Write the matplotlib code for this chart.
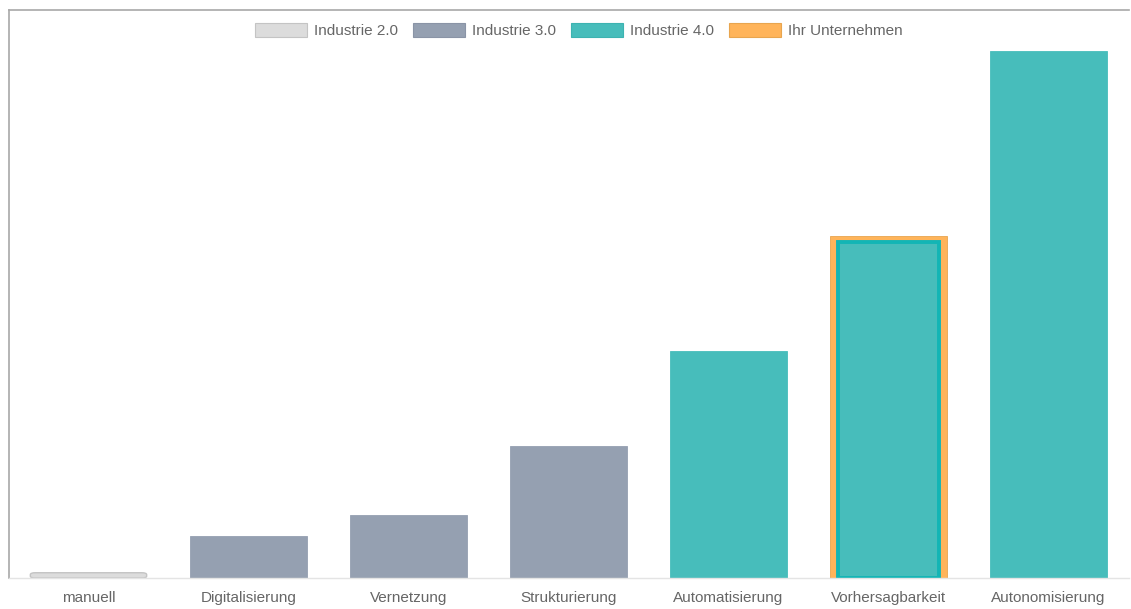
import matplotlib.pyplot as plt
from matplotlib.patches import Patch, FancyBboxPatch

categories = ["manuell", "Digitalisierung", "Vernetzung", "Strukturierung",
              "Automatisierung", "Vorhersagbarkeit", "Autonomisierung"]
values = [1, 8, 12, 25, 43, 65, 100]
groups = ["Industrie 2.0", "Industrie 3.0", "Industrie 3.0", "Industrie 3.0",
          "Industrie 4.0", "Industrie 4.0", "Industrie 4.0"]
company_index = 5
legend_labels = ["Industrie 2.0", "Industrie 3.0", "Industrie 4.0", "Ihr Unternehmen"]

colors = {"Industrie 2.0": "#dcdcdc", "Industrie 3.0": "#95a0b1",
          "Industrie 4.0": "#47bdbb", "Ihr Unternehmen": "#ffb45a"}
edges = {"Industrie 2.0": "#c4c4c4", "Industrie 3.0": "#8a94a6",
         "Industrie 4.0": "#3db3b1", "Ihr Unternehmen": "#e8a54f"}

plt.rcParams["font.family"] = ["Liberation Sans", "DejaVu Sans"]

fig = plt.figure(figsize=(11.31, 6.09), dpi=100)
ax = fig.add_axes([8.5 / 1131, 31 / 609, 1120 / 1131, 568 / 609])

x = list(range(len(categories)))
w = 0.727
for i, (v, g) in enumerate(zip(values, groups)):
    if i == company_index:
        ax.bar(i, v, width=w, color=colors["Ihr Unternehmen"], edgecolor="#e8a54f", lw=0.6)
        ax.bar(i, v - 1.15, width=w - 0.1, color=colors[g], edgecolor="#13b5b5", lw=2.8)
    elif g == "Industrie 2.0":
        box = FancyBboxPatch((i - w / 2, 0), w, v, boxstyle="round,pad=0,rounding_size=0.03",
                             mutation_aspect=12, fc=colors[g], ec=edges[g], lw=1)
        ax.add_patch(box)
    else:
        ax.bar(i, v, width=w, color=colors[g], edgecolor=colors[g], lw=0.6)

ax.set_xlim(-0.5, len(categories) - 0.5)
ax.set_ylim(0, 107.8)
ax.set_xticks(x)
ax.set_xticklabels(categories, fontsize=11, color="#666666")
ax.tick_params(axis="x", length=0, pad=17.5)
for t in ax.get_xticklabels():
    t.set_verticalalignment("baseline")
ax.set_yticks([])

for s in ["left", "top"]:
    ax.spines[s].set_color("#a8a8a8")
    ax.spines[s].set_linewidth(1.2)
ax.spines["right"].set_visible(False)
ax.spines["bottom"].set_color("#e4e4e4")
ax.spines["bottom"].set_linewidth(1)

handles = [Patch(facecolor=colors[l], edgecolor=edges[l], lw=0.8) for l in legend_labels]
leg = ax.legend(handles, legend_labels, loc="center", bbox_to_anchor=(0.509, 0.964),
                ncol=4, frameon=False, fontsize=11, handlelength=3.4, handleheight=1.05,
                handletextpad=0.45, columnspacing=1.0)
for t in leg.get_texts():
    t.set_color("#666666")

fig.savefig("out.png", dpi=100, facecolor="white")
